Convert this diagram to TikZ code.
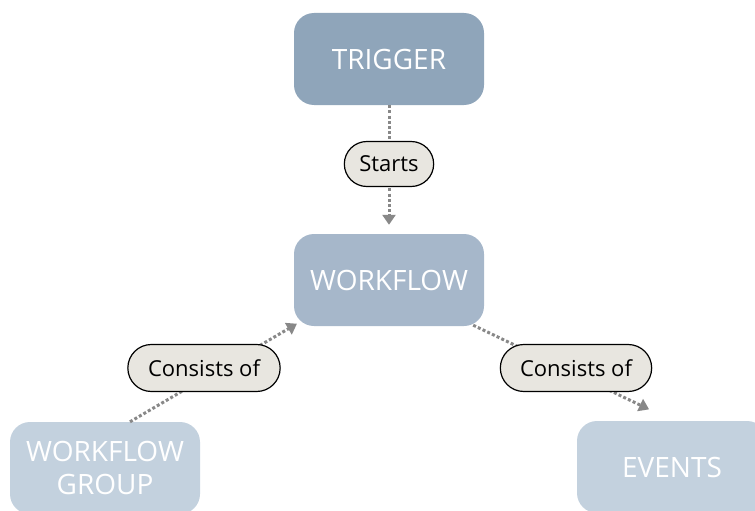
\documentclass[tikz,border=0pt]{standalone}
\usepackage{fontspec}
\setmainfont{Open Sans}
\usetikzlibrary{arrows.meta,shapes.misc}
\definecolor{trigcol}{HTML}{8FA5BA}
\definecolor{flowcol}{HTML}{A6B7CA}
\definecolor{leafcol}{HTML}{C3D1DE}
\definecolor{pillcol}{HTML}{E8E6E0}
\definecolor{linkcol}{HTML}{888888}
\begin{document}
\begin{tikzpicture}[x=1pt,y=-1pt,
	box/.style={rounded corners=20pt,minimum width=190pt,minimum height=92pt,text=white,font=\fontsize{28}{33}\selectfont,align=center},
	pill/.style={rounded rectangle,draw=black,line width=1.2pt,fill=pillcol,minimum width=96pt,minimum height=45pt,font=\fontsize{22}{26}\selectfont},
	link/.style={draw=linkcol,line width=3pt,dash pattern=on 3pt off 2.2pt,-{Triangle[width=13pt,length=10pt]},shorten >=1pt}]
	\useasboundingbox (0,0) rectangle (755,511);
	% boxes
	\node[box,fill=trigcol] (trigger) at (389,59) {TRIGGER};
	\node[box,fill=flowcol] (workflow) at (389,280) {WORKFLOW};
	\node[box,fill=leafcol] (group) at (105,468) {WORKFLOW\\GROUP};
	\node[box,fill=leafcol] (events) at (672,467) {EVENTS};
	% links
	\draw[link,shorten >=9pt] (trigger.south) -- (workflow.north);
	\draw[link] ([xshift=25pt]group.north) -- ([xshift=4pt,yshift=3pt]workflow.south west);
	\draw[link] ([xshift=-11pt,yshift=1pt]workflow.south east) -- ([xshift=-22pt,yshift=11pt]events.north);
	% link labels
	\node[pill] (starts) at (389,164) {Starts};
	\node[pill,minimum width=159pt,minimum height=47pt] (partof) at (204,368) {Consists of};
	\node[pill,minimum width=158pt,minimum height=47pt] (holds) at (576,368) {Consists of};
\end{tikzpicture}
\end{document}
